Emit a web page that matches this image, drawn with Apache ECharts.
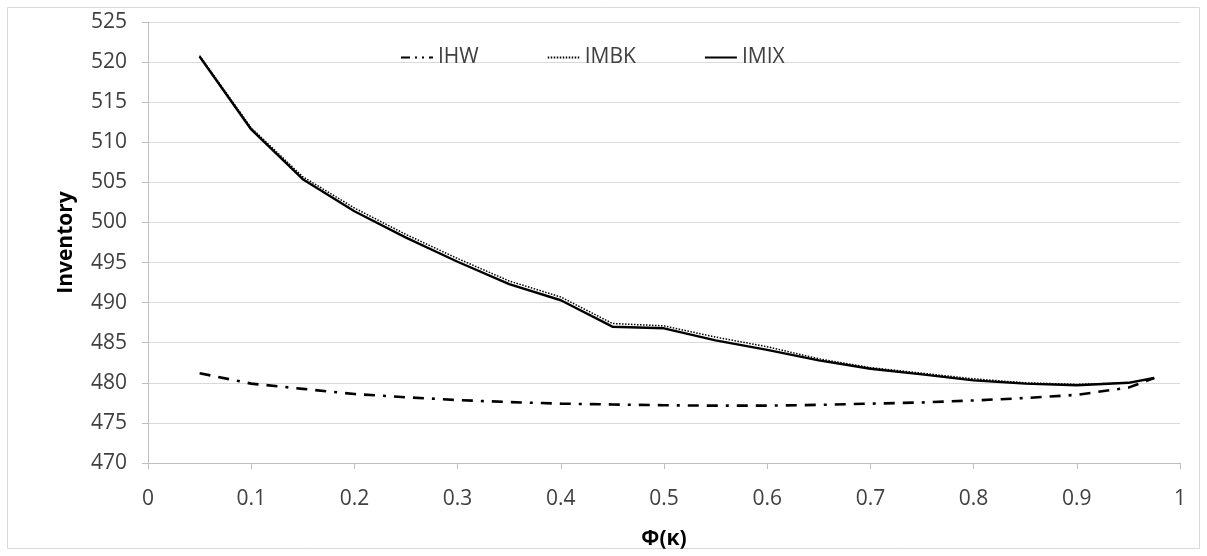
<!DOCTYPE html>
<html>
<head>
<meta charset="utf-8">
<script src="https://cdn.jsdelivr.net/npm/echarts@6/dist/echarts.min.js"></script>
<style>
html,body{margin:0;padding:0;background:#fff;}
#c{width:1207px;height:556px;}
</style>
</head>
<body>
<div id="c"></div>
<script>
const phi = [0.05,0.1,0.15,0.2,0.25,0.3,0.35,0.4,0.45,0.5,0.55,0.6,0.65,0.7,0.75,0.8,0.85,0.9,0.95,0.975];
const IHW  = [481.2,479.9,479.25,478.6,478.2,477.85,477.6,477.4,477.3,477.2,477.15,477.15,477.25,477.4,477.55,477.8,478.1,478.5,479.4,480.6];
const IMBK = [520.8,511.8,505.7,501.8,498.5,495.5,492.7,490.7,487.4,487.1,485.7,484.5,483.0,481.9,481.2,480.5,480.0,479.8,480.0,480.6];
const IMIX = [520.7,511.6,505.4,501.4,498.1,495.1,492.3,490.3,487.0,486.8,485.3,484.1,482.8,481.75,481.05,480.3,479.9,479.7,480.0,480.6];
const yTicks = {min:470, max:525, interval:5};
const xTicks = {min:0, max:1, interval:0.1};

const pairs = a => phi.map((x,i)=>[x,a[i]]);
const font = '"Open Sans", "Noto Sans", sans-serif';
const chart = echarts.init(document.getElementById('c'), null, {renderer:'canvas'});
chart.setOption({
  animation:false,
  backgroundColor:'#fff',
  graphic:[{type:'rect',shape:{x:7.5,y:7.5,width:1192,height:541},style:{fill:'none',stroke:'#d9d9d9',lineWidth:1},z:-1}],
  grid:{left:148,right:27,top:22,bottom:93},
  legend:{
    left:395, top:42, itemWidth:32, itemHeight:10, itemGap:68,
    itemStyle:{opacity:0},
    textStyle:{fontFamily:font,fontSize:21,color:'#404040'},
    data:[
      {name:'IHW', lineStyle:{type:[9,5,2,5,2,5]}},
      {name:'IMBK'},
      {name:'IMIX'}
    ]
  },
  xAxis:{
    type:'value', min:xTicks.min, max:xTicks.max, interval:xTicks.interval,
    name:'Φ(κ)', nameLocation:'middle', nameGap:66,
    nameTextStyle:{fontFamily:font,fontSize:21,fontWeight:'bold',color:'#000'},
    axisLine:{show:true,lineStyle:{color:'#bfbfbf',width:1}},
    axisTick:{show:true,length:6,lineStyle:{color:'#bfbfbf'}},
    splitLine:{show:false},
    axisLabel:{fontFamily:font,fontSize:21,color:'#404040',margin:26,
      formatter:v=>String(+v.toFixed(1))}
  },
  yAxis:{
    type:'value', min:yTicks.min, max:yTicks.max, interval:yTicks.interval,
    name:'Inventory', nameLocation:'middle', nameGap:71,
    nameTextStyle:{fontFamily:font,fontSize:21,fontWeight:'bold',color:'#000'},
    axisLine:{show:true,lineStyle:{color:'#bfbfbf',width:1}},
    axisTick:{show:true,length:6,lineStyle:{color:'#bfbfbf'}},
    splitLine:{show:true,lineStyle:{color:'#d9d9d9',width:1}},
    axisLabel:{fontFamily:font,fontSize:21,color:'#404040',margin:21}
  },
  series:[
    {name:'IHW',type:'line',symbol:'none',data:pairs(IHW),
     lineStyle:{color:'#000',width:2.6,type:[11,8,11,8,3,8],cap:'butt'},itemStyle:{color:'#000'}},
    {name:'IMBK',type:'line',symbol:'none',data:pairs(IMBK),
     lineStyle:{color:'#000',width:1.5,type:[1.5,1.5]},itemStyle:{color:'#000'}},
    {name:'IMIX',type:'line',symbol:'none',data:pairs(IMIX),
     lineStyle:{color:'#000',width:2.4,type:'solid'},itemStyle:{color:'#000'}}
  ]
});
</script>
</body>
</html>
